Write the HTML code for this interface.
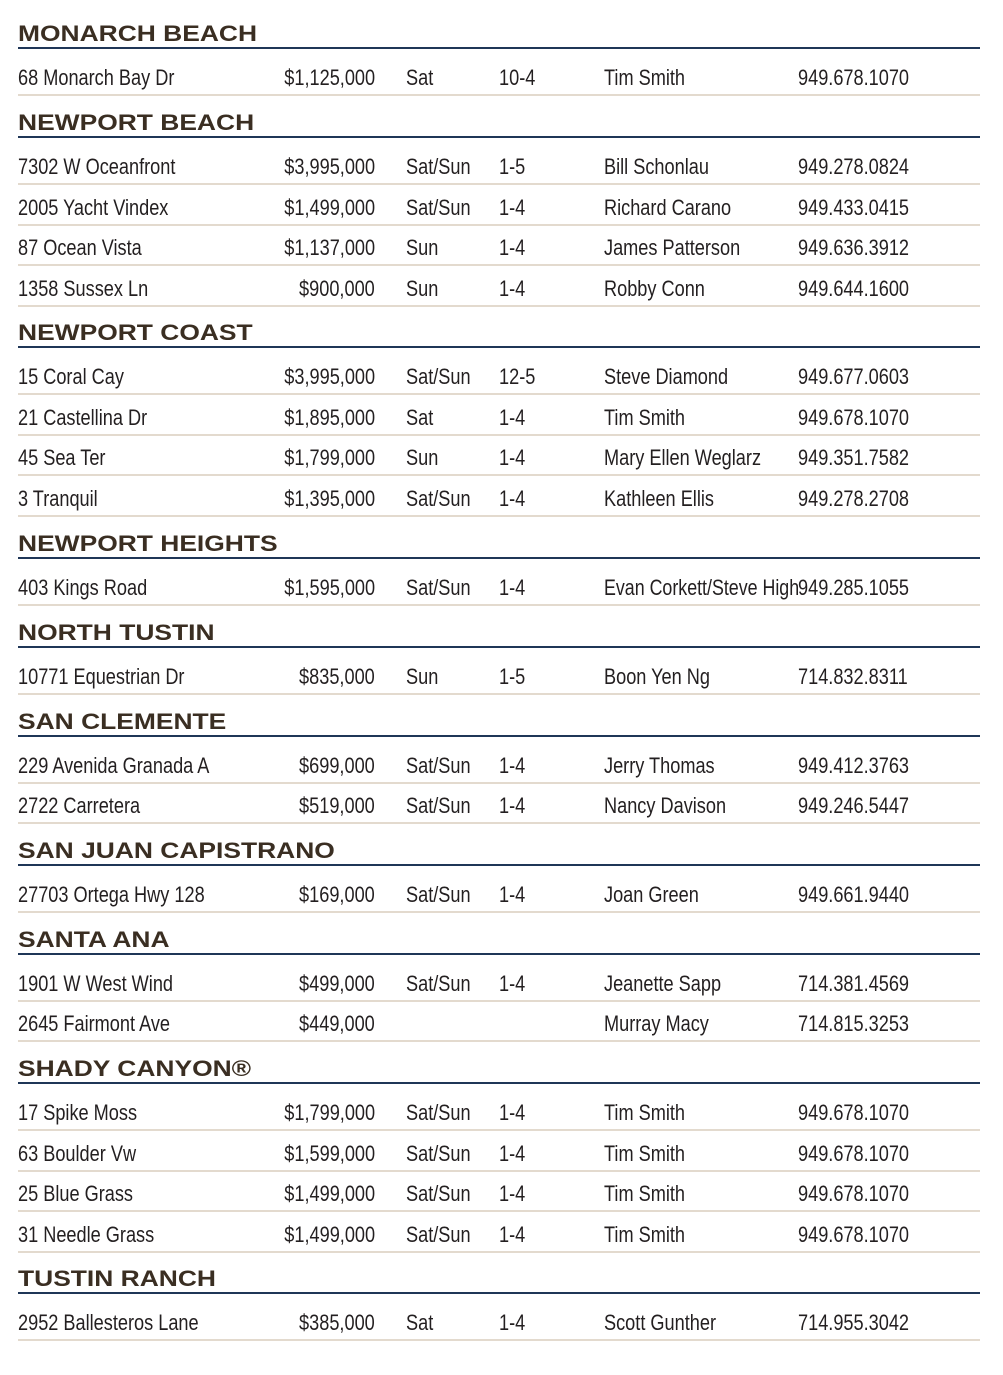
<!DOCTYPE html>
<html>
<head>
<meta charset="utf-8">
<style>
html,body{margin:0;padding:0;background:#fff;}
body{width:1003px;height:1375px;position:relative;overflow:hidden;}
.h{position:absolute;left:18px;white-space:nowrap;font:bold 22px/26px "Liberation Sans",Arial,sans-serif;color:#3a2e22;transform:scaleX(1.2);transform-origin:0 0;}
.nv{position:absolute;left:18px;width:962px;height:2px;background:#1f3657;}
.sp{position:absolute;left:18px;width:962px;height:2px;background:#e3dace;}
.row{position:absolute;left:0;width:1003px;height:26px;}
.row span{position:absolute;top:0;white-space:nowrap;font:22px/26px "Liberation Sans",Arial,sans-serif;color:#231f20;transform:scaleX(.825);transform-origin:0 0;}
.row .a{left:18px}
.row .p{right:628px;transform-origin:100% 0;}
.row .d{left:406px}
.row .m{left:499px}
.row .g{left:604px}
.row .n{left:798px}
.row .g2{left:604px;transform:scaleX(.81)}
</style>
</head>
<body>

<div class="h" style="top:21px">MONARCH BEACH</div>
<div class="nv" style="top:47px"></div>
<div class="row" style="top:65px"><span class="a">68 Monarch Bay Dr</span><span class="p">$1,125,000</span><span class="d">Sat</span><span class="m">10-4</span><span class="g">Tim Smith</span><span class="n">949.678.1070</span></div>
<div class="sp" style="top:94px"></div>

<div class="h" style="top:110px">NEWPORT BEACH</div>
<div class="nv" style="top:136px"></div>
<div class="row" style="top:154px"><span class="a">7302 W Oceanfront</span><span class="p">$3,995,000</span><span class="d">Sat/Sun</span><span class="m">1-5</span><span class="g">Bill Schonlau</span><span class="n">949.278.0824</span></div>
<div class="sp" style="top:183px"></div>
<div class="row" style="top:195px"><span class="a">2005 Yacht Vindex</span><span class="p">$1,499,000</span><span class="d">Sat/Sun</span><span class="m">1-4</span><span class="g">Richard Carano</span><span class="n">949.433.0415</span></div>
<div class="sp" style="top:224px"></div>
<div class="row" style="top:235px"><span class="a">87 Ocean Vista</span><span class="p">$1,137,000</span><span class="d">Sun</span><span class="m">1-4</span><span class="g">James Patterson</span><span class="n">949.636.3912</span></div>
<div class="sp" style="top:264px"></div>
<div class="row" style="top:276px"><span class="a">1358 Sussex Ln</span><span class="p">$900,000</span><span class="d">Sun</span><span class="m">1-4</span><span class="g">Robby Conn</span><span class="n">949.644.1600</span></div>
<div class="sp" style="top:305px"></div>

<div class="h" style="top:320px">NEWPORT COAST</div>
<div class="nv" style="top:346px"></div>
<div class="row" style="top:364px"><span class="a">15 Coral Cay</span><span class="p">$3,995,000</span><span class="d">Sat/Sun</span><span class="m">12-5</span><span class="g">Steve Diamond</span><span class="n">949.677.0603</span></div>
<div class="sp" style="top:393px"></div>
<div class="row" style="top:405px"><span class="a">21 Castellina Dr</span><span class="p">$1,895,000</span><span class="d">Sat</span><span class="m">1-4</span><span class="g">Tim Smith</span><span class="n">949.678.1070</span></div>
<div class="sp" style="top:434px"></div>
<div class="row" style="top:445px"><span class="a">45 Sea Ter</span><span class="p">$1,799,000</span><span class="d">Sun</span><span class="m">1-4</span><span class="g">Mary Ellen Weglarz</span><span class="n">949.351.7582</span></div>
<div class="sp" style="top:474px"></div>
<div class="row" style="top:486px"><span class="a">3 Tranquil</span><span class="p">$1,395,000</span><span class="d">Sat/Sun</span><span class="m">1-4</span><span class="g">Kathleen Ellis</span><span class="n">949.278.2708</span></div>
<div class="sp" style="top:515px"></div>

<div class="h" style="top:531px">NEWPORT HEIGHTS</div>
<div class="nv" style="top:557px"></div>
<div class="row" style="top:575px"><span class="a">403 Kings Road</span><span class="p">$1,595,000</span><span class="d">Sat/Sun</span><span class="m">1-4</span><span class="g2">Evan Corkett/Steve High</span><span class="n">949.285.1055</span></div>
<div class="sp" style="top:604px"></div>

<div class="h" style="top:620px">NORTH TUSTIN</div>
<div class="nv" style="top:646px"></div>
<div class="row" style="top:664px"><span class="a">10771 Equestrian Dr</span><span class="p">$835,000</span><span class="d">Sun</span><span class="m">1-5</span><span class="g">Boon Yen Ng</span><span class="n">714.832.8311</span></div>
<div class="sp" style="top:693px"></div>

<div class="h" style="top:709px">SAN CLEMENTE</div>
<div class="nv" style="top:735px"></div>
<div class="row" style="top:753px"><span class="a">229 Avenida Granada A</span><span class="p">$699,000</span><span class="d">Sat/Sun</span><span class="m">1-4</span><span class="g">Jerry Thomas</span><span class="n">949.412.3763</span></div>
<div class="sp" style="top:782px"></div>
<div class="row" style="top:793px"><span class="a">2722 Carretera</span><span class="p">$519,000</span><span class="d">Sat/Sun</span><span class="m">1-4</span><span class="g">Nancy Davison</span><span class="n">949.246.5447</span></div>
<div class="sp" style="top:822px"></div>

<div class="h" style="top:838px">SAN JUAN CAPISTRANO</div>
<div class="nv" style="top:864px"></div>
<div class="row" style="top:882px"><span class="a">27703 Ortega Hwy 128</span><span class="p">$169,000</span><span class="d">Sat/Sun</span><span class="m">1-4</span><span class="g">Joan Green</span><span class="n">949.661.9440</span></div>
<div class="sp" style="top:911px"></div>

<div class="h" style="top:927px">SANTA ANA</div>
<div class="nv" style="top:953px"></div>
<div class="row" style="top:971px"><span class="a">1901 W West Wind</span><span class="p">$499,000</span><span class="d">Sat/Sun</span><span class="m">1-4</span><span class="g">Jeanette Sapp</span><span class="n">714.381.4569</span></div>
<div class="sp" style="top:1000px"></div>
<div class="row" style="top:1011px"><span class="a">2645 Fairmont Ave</span><span class="p">$449,000</span><span class="g">Murray Macy</span><span class="n">714.815.3253</span></div>
<div class="sp" style="top:1040px"></div>

<div class="h" style="top:1056px">SHADY CANYON®</div>
<div class="nv" style="top:1082px"></div>
<div class="row" style="top:1100px"><span class="a">17 Spike Moss</span><span class="p">$1,799,000</span><span class="d">Sat/Sun</span><span class="m">1-4</span><span class="g">Tim Smith</span><span class="n">949.678.1070</span></div>
<div class="sp" style="top:1129px"></div>
<div class="row" style="top:1141px"><span class="a">63 Boulder Vw</span><span class="p">$1,599,000</span><span class="d">Sat/Sun</span><span class="m">1-4</span><span class="g">Tim Smith</span><span class="n">949.678.1070</span></div>
<div class="sp" style="top:1170px"></div>
<div class="row" style="top:1181px"><span class="a">25 Blue Grass</span><span class="p">$1,499,000</span><span class="d">Sat/Sun</span><span class="m">1-4</span><span class="g">Tim Smith</span><span class="n">949.678.1070</span></div>
<div class="sp" style="top:1210px"></div>
<div class="row" style="top:1222px"><span class="a">31 Needle Grass</span><span class="p">$1,499,000</span><span class="d">Sat/Sun</span><span class="m">1-4</span><span class="g">Tim Smith</span><span class="n">949.678.1070</span></div>
<div class="sp" style="top:1251px"></div>

<div class="h" style="top:1266px">TUSTIN RANCH</div>
<div class="nv" style="top:1292px"></div>
<div class="row" style="top:1310px"><span class="a">2952 Ballesteros Lane</span><span class="p">$385,000</span><span class="d">Sat</span><span class="m">1-4</span><span class="g">Scott Gunther</span><span class="n">714.955.3042</span></div>
<div class="sp" style="top:1339px"></div>

</body>
</html>
